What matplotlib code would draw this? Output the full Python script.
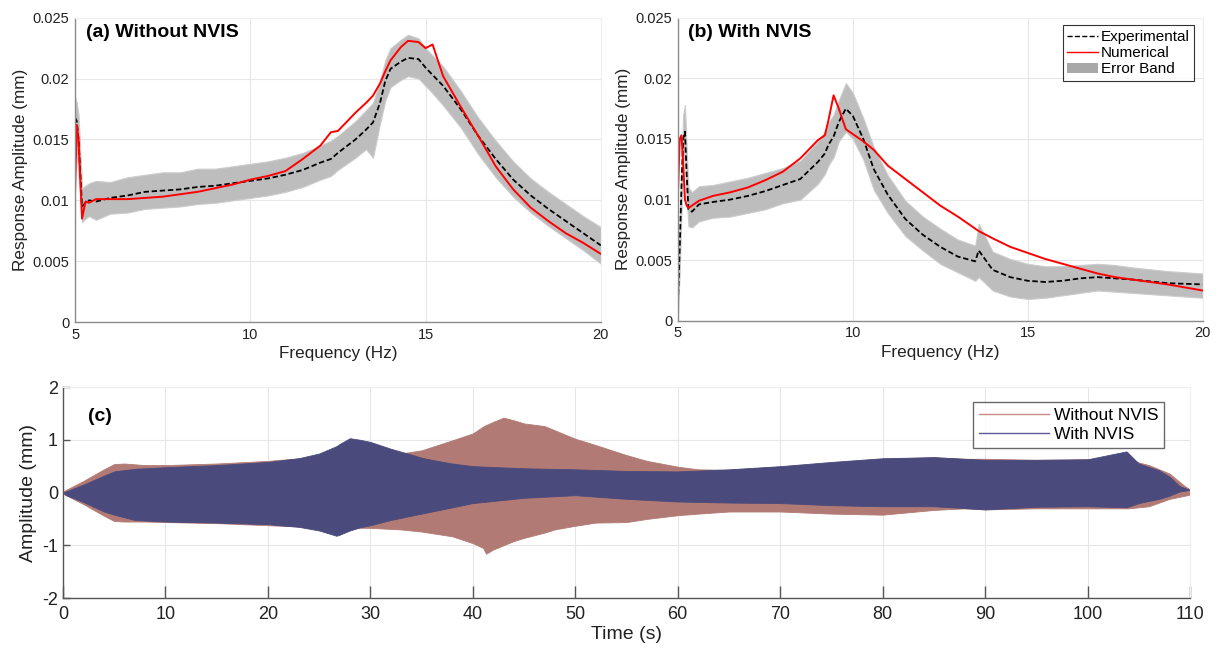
import matplotlib
matplotlib.use("Agg")
import matplotlib.pyplot as plt
from matplotlib.lines import Line2D
from matplotlib.patches import Patch

plt.rcParams['font.family'] = ['Liberation Sans', 'DejaVu Sans']
plt.rcParams['axes.unicode_minus'] = False

# (a) sans NVIS : frequence (Hz) et amplitudes (mm)
freq_a = [5.0, 5.05, 5.1, 5.2, 5.3, 5.4, 5.6, 6.0, 6.5, 7.0, 7.5, 8.0, 8.5, 9.0, 9.5, 10.0,
          10.5, 11.0, 11.5, 12.0, 12.3, 12.5, 13.0, 13.3, 13.5, 13.7, 13.85, 14.0, 14.3, 14.5,
          14.8, 15.0, 15.2, 15.5, 16.0, 16.5, 17.0, 17.5, 18.0, 18.5, 19.0, 19.5, 20.0]
exp_a = [0.0168, 0.0165, 0.0150, 0.0095, 0.0098, 0.0100, 0.0099, 0.0102, 0.0104, 0.0107,
         0.0108, 0.0109, 0.0111, 0.0112, 0.0114, 0.0116, 0.0118, 0.0121, 0.0125, 0.0131,
         0.0134, 0.0139, 0.0150, 0.0158, 0.0164, 0.0180, 0.0198, 0.0208, 0.0214, 0.0217,
         0.0216, 0.0209, 0.0203, 0.0194, 0.0175, 0.0153, 0.0134, 0.0117, 0.0104, 0.0093,
         0.0083, 0.0073, 0.0063]
num_a = [0.0105, 0.0162, 0.0150, 0.0085, 0.0099, 0.0098, 0.0101, 0.0101, 0.0101, 0.0102,
         0.0103, 0.0105, 0.0107, 0.0110, 0.0113, 0.0117, 0.0120, 0.0124, 0.0134, 0.0145,
         0.0156, 0.0157, 0.0172, 0.0180, 0.0186, 0.0196, 0.0206, 0.0215, 0.0226, 0.0231,
         0.0230, 0.0225, 0.0228, 0.0202, 0.0177, 0.0153, 0.0128, 0.0109, 0.0094, 0.0083,
         0.0073, 0.0065, 0.0056]
band_lo_a = [0.0150, 0.0140, 0.0120, 0.0082, 0.0085, 0.0087, 0.0084, 0.0089, 0.0090, 0.0093,
             0.0094, 0.0095, 0.0097, 0.0098, 0.0100, 0.0102, 0.0104, 0.0107, 0.0111, 0.0117,
             0.0120, 0.0125, 0.0135, 0.0142, 0.0135, 0.0163, 0.0182, 0.0193, 0.0199, 0.0202,
             0.0200, 0.0194, 0.0188, 0.0178, 0.0160, 0.0138, 0.0119, 0.0103, 0.0090, 0.0079,
             0.0069, 0.0059, 0.0048]
band_hi_a = [0.0185, 0.0180, 0.0170, 0.0110, 0.0112, 0.0114, 0.0116, 0.0115, 0.0119, 0.0121,
             0.0123, 0.0123, 0.0126, 0.0126, 0.0128, 0.0130, 0.0132, 0.0135, 0.0139, 0.0145,
             0.0149, 0.0153, 0.0165, 0.0174, 0.0180, 0.0198, 0.0215, 0.0225, 0.0232, 0.0236,
             0.0233, 0.0225, 0.0219, 0.0210, 0.0190, 0.0168, 0.0149, 0.0132, 0.0118, 0.0107,
             0.0097, 0.0087, 0.0078]

# (b) avec NVIS
freq_b = [5.0, 5.05, 5.1, 5.15, 5.2, 5.25, 5.3, 5.4, 5.6, 6.0, 6.5, 7.0, 7.5, 8.0, 8.5, 9.0,
          9.2, 9.3, 9.45, 9.6, 9.8, 10.0, 10.3, 10.6, 11.0, 11.5, 12.0, 12.5, 13.0, 13.5,
          13.6, 14.0, 14.5, 15.0, 15.5, 16.0, 16.5, 17.0, 17.5, 18.0, 19.0, 20.0]
exp_b = [0.0015, 0.0060, 0.0110, 0.0150, 0.0156, 0.0120, 0.0092, 0.0090, 0.0096, 0.0098,
         0.0100, 0.0103, 0.0107, 0.0112, 0.0117, 0.0131, 0.0138, 0.0145, 0.0152, 0.0164,
         0.0175, 0.0169, 0.0150, 0.0125, 0.0104, 0.0084, 0.0071, 0.0061, 0.0053, 0.0049,
         0.0058, 0.0042, 0.0036, 0.0033, 0.0032, 0.0033, 0.0035, 0.0036, 0.0035, 0.0034,
         0.0031, 0.0030]
num_b = [0.0105, 0.0150, 0.0153, 0.0130, 0.0100, 0.0095, 0.0093, 0.0095, 0.0099, 0.0103,
         0.0106, 0.0110, 0.0116, 0.0123, 0.0134, 0.0149, 0.0153, 0.0165, 0.0186, 0.0175,
         0.0158, 0.0154, 0.0148, 0.0141, 0.0128, 0.0117, 0.0106, 0.0095, 0.0086, 0.0076,
         0.0074, 0.0068, 0.0061, 0.0056, 0.0051, 0.0047, 0.0043, 0.0039, 0.0036, 0.0034,
         0.0030, 0.0025]
band_lo_b = [0.0005, 0.0040, 0.0090, 0.0130, 0.0140, 0.0100, 0.0078, 0.0077, 0.0082, 0.0085,
             0.0086, 0.0089, 0.0092, 0.0097, 0.0100, 0.0113, 0.0121, 0.0128, 0.0135, 0.0148,
             0.0156, 0.0150, 0.0133, 0.0108, 0.0089, 0.0070, 0.0058, 0.0047, 0.0040, 0.0033,
             0.0036, 0.0025, 0.0020, 0.0018, 0.0019, 0.0021, 0.0023, 0.0025, 0.0024, 0.0023,
             0.0021, 0.0019]
band_hi_b = [0.0025, 0.0080, 0.0130, 0.0170, 0.0178, 0.0140, 0.0110, 0.0106, 0.0111, 0.0112,
             0.0115, 0.0118, 0.0122, 0.0126, 0.0132, 0.0148, 0.0156, 0.0163, 0.0170, 0.0182,
             0.0196, 0.0188, 0.0167, 0.0143, 0.0120, 0.0099, 0.0086, 0.0076, 0.0067, 0.0062,
             0.0080, 0.0057, 0.0051, 0.0047, 0.0045, 0.0045, 0.0046, 0.0047, 0.0046, 0.0044,
             0.0041, 0.0039]

# (c) reponse temporelle : enveloppes (mm)
time_wo = [0, 2, 4, 5, 6, 8, 10, 15, 20, 25, 30, 33, 35, 38, 40, 41, 41.3, 42, 43, 44, 45, 47,
           48, 50, 52, 55, 57, 60, 62, 65, 70, 75, 80, 85, 88, 90, 95, 100, 104, 106, 108,
           109.5, 110]
wo_hi = [0.02, 0.22, 0.44, 0.54, 0.55, 0.52, 0.52, 0.55, 0.60, 0.68, 0.73, 0.74, 0.80, 0.99,
         1.12, 1.25, 1.28, 1.34, 1.42, 1.37, 1.31, 1.26, 1.18, 1.02, 0.90, 0.71, 0.60, 0.49,
         0.44, 0.43, 0.49, 0.56, 0.64, 0.67, 0.64, 0.64, 0.62, 0.63, 0.62, 0.52, 0.36, 0.12,
         0.06]
wo_lo = [-0.02, -0.22, -0.44, -0.54, -0.55, -0.55, -0.56, -0.58, -0.62, -0.66, -0.67, -0.70,
         -0.74, -0.83, -0.96, -1.05, -1.16, -1.08, -1.00, -0.92, -0.86, -0.76, -0.70, -0.63,
         -0.57, -0.56, -0.50, -0.43, -0.40, -0.36, -0.36, -0.40, -0.42, -0.33, -0.30, -0.32,
         -0.30, -0.30, -0.30, -0.26, -0.12, -0.06, -0.04]
time_w = [0, 0.3, 2, 4, 5, 7, 10, 15, 20, 23, 25, 26.7, 27, 28, 29, 30, 32, 34, 35, 36, 38,
          40, 45, 50, 55, 60, 65, 70, 75, 80, 85, 90, 95, 100, 103.8, 105, 107, 108, 109, 110]
w_hi = [0.0, 0.02, 0.15, 0.32, 0.40, 0.45, 0.48, 0.52, 0.58, 0.65, 0.74, 0.88, 0.92, 1.03,
        1.00, 0.96, 0.83, 0.72, 0.66, 0.62, 0.55, 0.50, 0.46, 0.44, 0.41, 0.40, 0.44, 0.50,
        0.58, 0.65, 0.67, 0.62, 0.62, 0.63, 0.78, 0.55, 0.42, 0.30, 0.12, 0.05]
w_lo = [0.0, -0.05, -0.18, -0.36, -0.42, -0.52, -0.55, -0.57, -0.60, -0.65, -0.72, -0.82,
        -0.80, -0.72, -0.66, -0.62, -0.52, -0.44, -0.40, -0.36, -0.28, -0.20, -0.10, -0.05,
        -0.12, -0.17, -0.19, -0.20, -0.24, -0.26, -0.26, -0.32, -0.27, -0.26, -0.28, -0.20,
        -0.12, -0.06, 0.02, 0.05]

grid_col = '#e6e6e6'
spine_col = '#8c8c8c'
brown = '#b17a74'
navy = '#4a4a7c'


def style_axes(ax):
    ax.grid(True, color=grid_col, linewidth=0.8)
    ax.set_axisbelow(True)
    for side in ['top', 'right']:
        ax.spines[side].set_color('#efefef')
    for side in ['left', 'bottom']:
        ax.spines[side].set_color(spine_col)
        ax.spines[side].set_linewidth(1.0)


fig = plt.figure(figsize=(12.2, 6.56), dpi=100)
ax_a = fig.add_axes([0.0615, 0.509, 0.431, 0.464])
ax_b = fig.add_axes([0.5557, 0.511, 0.430, 0.462])
ax_c = fig.add_axes([0.0516, 0.0884, 0.9238, 0.3216])

for ax, f, ex, nu, lo, hi, title in [
        (ax_a, freq_a, exp_a, num_a, band_lo_a, band_hi_a, '(a) Without NVIS'),
        (ax_b, freq_b, exp_b, num_b, band_lo_b, band_hi_b, '(b) With NVIS')]:
    ax.fill_between(f, lo, hi, color='#bdbdbd', linewidth=0.8, edgecolor='#cccccc')
    ax.plot(f, ex, color='black', linestyle='--', linewidth=1.3, dashes=(3, 1.5))
    ax.plot(f, nu, color='#ff0000', linewidth=1.4)
    ax.set_xlim(5, 20)
    ax.set_ylim(0, 0.025)
    ax.set_xticks([5, 10, 15, 20])
    ax.set_yticks([0, 0.005, 0.01, 0.015, 0.02, 0.025])
    ax.set_yticklabels(['0', '0.005', '0.01', '0.015', '0.02', '0.025'])
    ax.tick_params(length=0, labelsize=10.5, pad=4, colors='#222222')
    ax.set_xlabel('Frequency (Hz)', fontsize=12.3, color='#222222', labelpad=3)
    ax.set_ylabel('Response Amplitude (mm)', fontsize=12.3, color='#222222', labelpad=3)
    ax.text(0.02, 0.98, title, transform=ax.transAxes, fontsize=14,
            fontweight='bold', va='top', ha='left')
    style_axes(ax)

handles_b = [Line2D([], [], color='black', linestyle='--', linewidth=1.0),
             Line2D([], [], color='#ff0000', linewidth=1.0),
             Patch(facecolor='#a8a8a8', edgecolor='none')]
leg_b = ax_b.legend(handles_b, ['Experimental', 'Numerical', 'Error Band'],
                    loc='upper right', bbox_to_anchor=(0.99, 0.985), fontsize=11,
                    frameon=True, fancybox=False, handlelength=2.0, handletextpad=0.2,
                    borderpad=0.3, labelspacing=0.15, borderaxespad=0.2)
leg_b.get_frame().set_edgecolor('black')
leg_b.get_frame().set_linewidth(0.8)

ax_c.fill_between(time_wo, wo_lo, wo_hi, color=brown, linewidth=0.6, edgecolor=brown)
ax_c.fill_between(time_w, w_lo, w_hi, color=navy, linewidth=0.6, edgecolor=navy)
ax_c.set_xlim(0, 110)
ax_c.set_ylim(-2, 2)
ax_c.set_xticks(range(0, 111, 10))
ax_c.set_yticks([-2, -1, 0, 1, 2])
ax_c.tick_params(axis='x', direction='in', length=9, width=1.0, color='#555555',
                 labelsize=13, pad=6, labelcolor='#222222')
ax_c.tick_params(axis='y', direction='in', length=5, width=1.0, color='#555555',
                 labelsize=13, labelcolor='#222222')
ax_c.set_xlabel('Time (s)', fontsize=14, color='#222222', labelpad=2)
ax_c.set_ylabel('Amplitude (mm)', fontsize=14, color='#222222', labelpad=4)
ax_c.text(0.022, 0.9, '(c)', transform=ax_c.transAxes, fontsize=14,
          fontweight='bold', va='top', ha='left')
style_axes(ax_c)
ax_c.spines['bottom'].set_color('#555555')
ax_c.spines['left'].set_color('#555555')

handles_c = [Line2D([], [], color='#c98b84', linewidth=1.0),
             Line2D([], [], color='#5a5a96', linewidth=1.0)]
leg_c = ax_c.legend(handles_c, ['Without NVIS', 'With NVIS'], loc='upper right',
                    bbox_to_anchor=(0.985, 0.97), fontsize=12.5, frameon=True,
                    fancybox=False, handlelength=4.0, handletextpad=0.3, borderpad=0.35,
                    labelspacing=0.2)
leg_c.get_frame().set_edgecolor('#444444')
leg_c.get_frame().set_linewidth(1.0)

fig.savefig('out.png', dpi=100)
